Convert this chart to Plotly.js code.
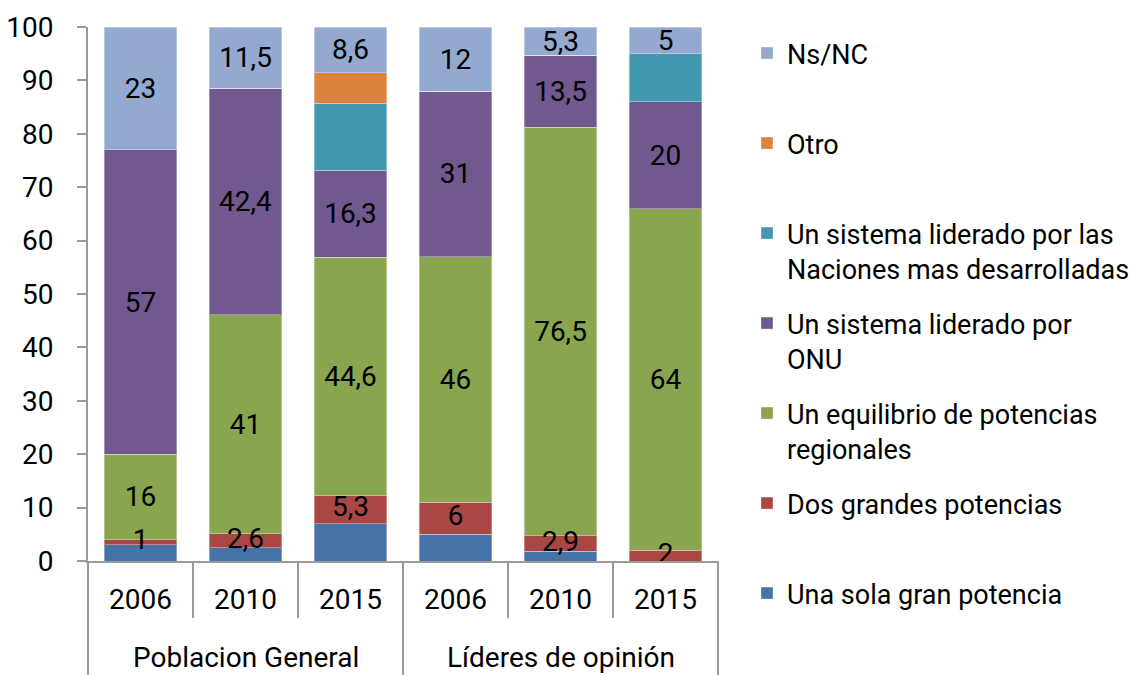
<!DOCTYPE html>
<html>
<head>
<meta charset="utf-8">
<script src="https://cdn.plot.ly/plotly-3.0.1.min.js"></script>
<style>
  html, body { margin: 0; padding: 0; background: #ffffff; }
  #chart { width: 1135px; height: 675px; }
</style>
</head>
<body>
<div id="chart"></div>
<script>
// ---- Data ----
var groupNames = ["Poblacion General", "Líderes de opinión"];
var groups = ["Poblacion General", "Poblacion General", "Poblacion General",
              "Líderes de opinión", "Líderes de opinión", "Líderes de opinión"];
var years = ["2006", "2010", "2015", "2006", "2010", "2015"];

var seriesNames = [
  "Una sola gran potencia",
  "Dos grandes potencias",
  "Un equilibrio de potencias<br>regionales",
  "Un sistema liderado por<br>ONU",
  "Un sistema liderado por las<br>Naciones mas desarrolladas",
  "Otro",
  "Ns/NC"
];

var unaSola       = [3,   2.5, 7,    5,  1.8,  0];
var dosGrandes    = [1,   2.6, 5.3,  6,  2.9,  2];
var equilibrio    = [16,  41,  44.6, 46, 76.5, 64];
var onu           = [57,  42.4, 16.3, 31, 13.5, 20];
var naciones      = [0,   0,   12.5, 0,  0,    9];
var otro          = [0,   0,   5.7,  0,  0,    0];
var nsnc          = [23,  11.5, 8.6, 12, 5.3,  5];

var colors = ["#4572A7", "#AA4643", "#89A54E", "#71588F", "#4198AF", "#DB843D", "#93A9CF"];
var showLabels = [false, true, true, true, false, false, true];

var allSeries = [unaSola, dosGrandes, equilibrio, onu, naciones, otro, nsnc];

function fmt(v) { return String(v).replace(".", ","); }

// unique category keys for each bar (group + year)
var keys = groups.map(function (g, j) { return g + " " + years[j]; });

var FONT = "Roboto, 'Open Sans', sans-serif";
var FS = 28;
var LFS = 27;

// Series whose labels spill over neighbouring segments are drawn as an overlay on top
var overlayIdx = 1;

var traces = allSeries.map(function (vals, i) {
  var name = seriesNames[i];
  if (name.indexOf("<br>") < 0) name = name + "<br>\u00a0";
  return {
    type: "bar",
    name: name,
    legendgroup: "g" + i,
    legendrank: allSeries.length - i,
    x: keys,
    y: vals,
    text: vals.map(function (v) { return (showLabels[i] && i !== overlayIdx && v > 0) ? fmt(v) : ""; }),
    textposition: "inside",
    insidetextanchor: "middle",
    constraintext: "none",
    cliponaxis: false,
    textangle: 0,
    textfont: { family: FONT, size: FS, color: "#000000" },
    marker: { color: colors[i], line: { color: "rgba(255,255,255,0.35)", width: 1 } },
    hoverinfo: "skip"
  };
});

// overlay labels for the small "Dos grandes potencias" segments (middle of each segment)
var below = unaSola;
traces.push({
  type: "scatter",
  mode: "text",
  x: keys,
  y: dosGrandes.map(function (v, j) { return below[j] + v / 2; }),
  text: dosGrandes.map(fmt),
  textposition: "middle center",
  textfont: { family: FONT, size: FS, color: "#000000" },
  cliponaxis: false,
  showlegend: false,
  hoverinfo: "skip"
});

// ---- Axis decoration (tick separators & group dividers) ----
var lineCol = "#9A9A9A";
var shapes = [];
[1, 2, 4, 5].forEach(function (k) {
  shapes.push({ type: "line", xref: "paper", yref: "paper",
    x0: k / 6, x1: k / 6, y0: 0, y1: -57 / 534,
    line: { color: lineCol, width: 2 } });
});
[0, 3, 6].forEach(function (k) {
  shapes.push({ type: "line", xref: "paper", yref: "paper",
    x0: k / 6, x1: k / 6, y0: 0, y1: -114 / 534,
    line: { color: lineCol, width: 2 } });
});

var annotations = groupNames.map(function (g, k) {
  return { text: g, xref: "paper", yref: "paper", x: 0.25 + 0.5 * k, y: -96 / 534,
    xanchor: "center", yanchor: "middle", showarrow: false,
    font: { family: FONT, size: FS, color: "#000000" } };
});

var layout = {
  width: 1135,
  height: 675,
  margin: { l: 88, r: 417, t: 27, b: 114, pad: 0 },
  paper_bgcolor: "#ffffff",
  plot_bgcolor: "#ffffff",
  barmode: "stack",
  bargap: 0.31,
  font: { family: FONT, size: FS, color: "#000000" },
  showlegend: true,
  legend: {
    traceorder: "grouped",
    tracegroupgap: 16.8,
    valign: "top",
    xref: "container", yref: "container",
    x: 747 / 1135, xanchor: "left",
    y: 1 - 29 / 675, yanchor: "top",
    maxheight: 670,
    font: { family: FONT, size: LFS, color: "#000000" },
    bgcolor: "rgba(0,0,0,0)"
  },
  xaxis: {
    type: "category",
    tickvals: keys,
    ticktext: years,
    showline: true, linecolor: lineCol, linewidth: 2,
    ticks: "",
    showgrid: false, zeroline: false,
    tickfont: { family: FONT, size: FS, color: "#000000" },
    ticklabelstandoff: 12
  },
  yaxis: {
    range: [0, 100],
    dtick: 10,
    tick0: 0,
    showline: true, linecolor: lineCol, linewidth: 2,
    ticks: "outside", ticklen: 9, tickwidth: 2, tickcolor: lineCol,
    showgrid: false, zeroline: false,
    tickfont: { family: FONT, size: FS, color: "#000000" },
    ticklabelstandoff: 18
  },
  shapes: shapes,
  annotations: annotations
};

Plotly.newPlot("chart", traces, layout, { displayModeBar: false, staticPlot: true });
</script>
</body>
</html>
